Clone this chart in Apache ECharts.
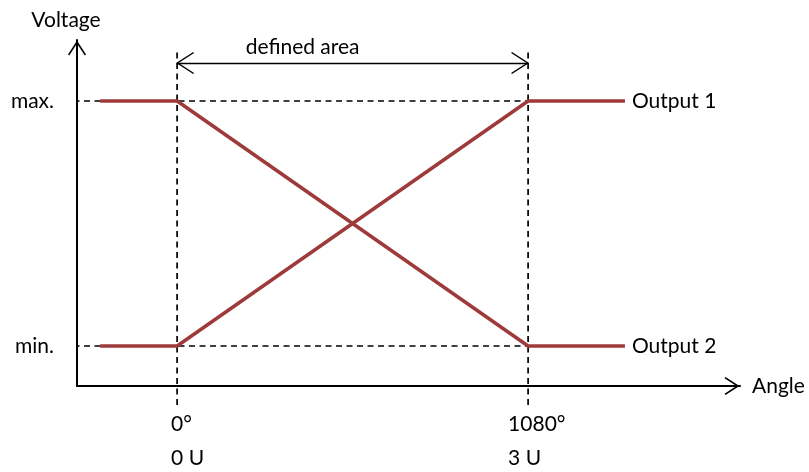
<!DOCTYPE html>
<html>
<head>
<meta charset="utf-8">
<script src="https://cdn.jsdelivr.net/npm/echarts@6/dist/echarts.min.js"></script>
<style>
  html, body { margin: 0; padding: 0; background: #fff; }
  #chart { width: 809px; height: 472px; }
</style>
</head>
<body>
<div id="chart"></div>
<script>
// ---------- data ----------
const angles = [-237, 0, 1080, 1378]
const output1 = [0, 0, 1, 1]
const output2 = [1, 1, 0, 0]
const seriesNames = ['Output 1', 'Output 2']

const levelValues = [0, 1]
const levelLabels = ['min.', 'max.']

const angleTicks = [0, 1080]
const angleLabels = ['0°', '1080°']
const unitLabels = ['0 U', '3 U']

// dashed guides
const guideVertY = [-0.241, 1.2]
const guideHorzX = [-351, 1080]
const definedArea = [0, 1080]
const definedAreaLevel = 1.155

const FONT = 'Lato'
const FS = 21
const LINE_RED = '#9e3a3a'
// open chevron pointing up
const CHEVRON = 'path://M10,0 L20,15.5 L18.6,16.6 L10,3.4 L1.4,16.6 L0,15.5 Z'
const CHEVRON_THIN = 'path://M10,0 L20,15.5 L19.1,16.3 L10,2.3 L0.9,16.3 L0,15.5 Z'

const chart = echarts.init(document.getElementById('chart'))

function guideSeries(points) {
  return {
    type: 'line', data: points, symbol: 'none', clip: false, silent: true,
    lineStyle: { color: '#000', width: 1.7, type: [6, 4.5] }, z: 1,
  }
}

const textStyle = { color: '#000', fontFamily: FONT, fontSize: FS }

const series = [
  ...angleTicks.map(a => guideSeries(guideVertY.map(y => [a, y]))),
  ...levelValues.map(v => guideSeries(guideHorzX.map(x => [x, v]))),
  ...[output1, output2].map((vals, i) => ({
    name: seriesNames[i], type: 'line', symbol: 'none', z: 3,
    data: angles.map((a, j) => [a, vals[j]]),
    lineStyle: { color: LINE_RED, width: 3.5 },
    endLabel: { show: true, formatter: '{a}', distance: 7, ...textStyle },
  })),
  {
    type: 'line', data: [], silent: true,
    markLine: {
      silent: true, animation: false,
      symbol: [CHEVRON_THIN, CHEVRON_THIN], symbolSize: [22, 18], symbolOffset: [[0, 8], [0, 8]],
      lineStyle: { color: '#000', width: 1.4, type: 'solid' },
      label: {
        show: true, position: 'middle', formatter: 'defined area',
        ...textStyle, padding: [0, 100, 0, 0],
      },
      data: [[{ coord: [definedArea[0], definedAreaLevel] }, { coord: [definedArea[1], definedAreaLevel] }]],
    },
  },
]

chart.setOption({
  animation: false,
  grid: { left: 77, right: 69, top: 40, bottom: 86 },
  xAxis: {
    type: 'value', min: -308, max: 1732,
    name: 'Angle', nameLocation: 'end', nameGap: 12,
    nameTextStyle: textStyle,
    axisLine: {
      onZero: false,
      lineStyle: { color: '#000', width: 2 },
      symbol: ['none', CHEVRON], symbolSize: [18, 16], symbolOffset: [0, -8],
    },
    axisTick: { show: false },
    splitLine: { show: false },
    axisLabel: {
      customValues: angleTicks, margin: 21,
      formatter: v => {
        const i = angleTicks.indexOf(v)
        const s = i === 0 ? 'a' : 'b'
        return `{${s}|${angleLabels[i]}}\n{${s}|${unitLabels[i]}}`
      },
      rich: {
        a: { width: 12, align: 'left', ...textStyle, lineHeight: 34 },
        b: { width: 40, align: 'left', ...textStyle, lineHeight: 34 },
      },
    },
  },
  yAxis: {
    type: 'value', min: -0.1633, max: 1.249,
    name: 'Voltage', nameLocation: 'end', nameGap: 9,
    nameTextStyle: { ...textStyle, padding: [0, 22, 0, 0] },
    axisLine: {
      show: true, onZero: false,
      lineStyle: { color: '#000', width: 2 },
      symbol: ['none', CHEVRON], symbolSize: [18, 16], symbolOffset: [0, -8],
    },
    axisTick: { show: false },
    splitLine: { show: false },
    axisLabel: {
      customValues: levelValues, margin: 23,
      formatter: v => levelLabels[levelValues.indexOf(v)],
      ...textStyle,
    },
  },
  series,
})
</script>
</body>
</html>
